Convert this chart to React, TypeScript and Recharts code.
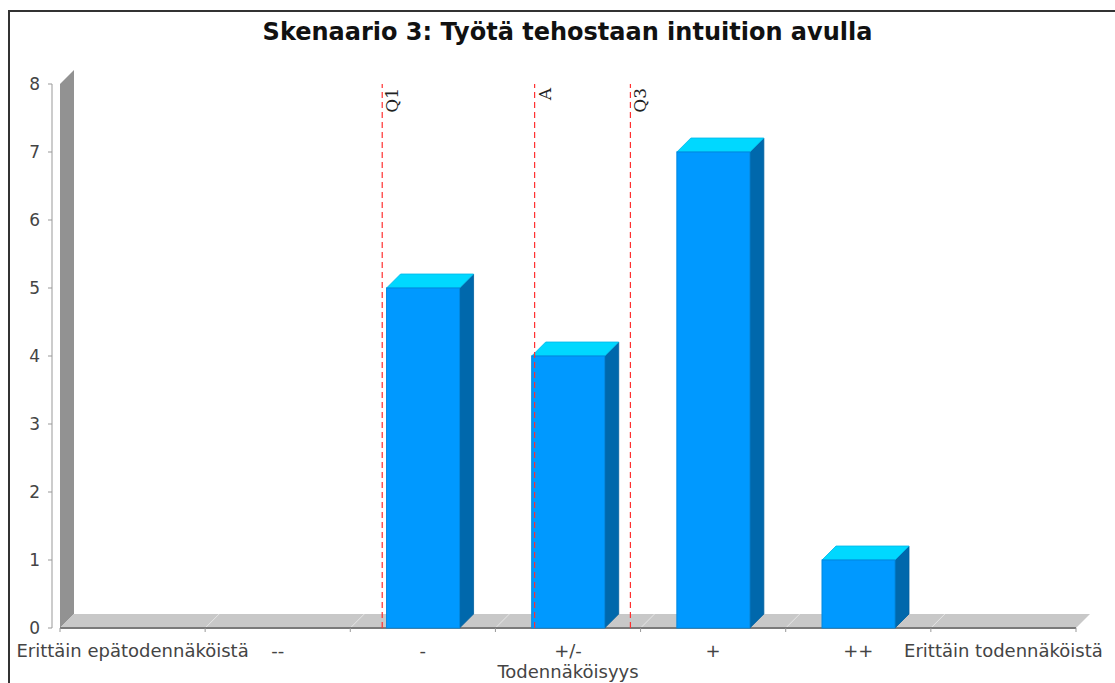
import { BarChart, Bar, XAxis, YAxis, ReferenceLine, ReferenceArea } from 'recharts';

// ---- data ----
const categories = ['Erittäin epätodennäköistä', '--', '-', '+/-', '+', '++', 'Erittäin todennäköistä'];
const counts = [0, 0, 5, 4, 7, 1, 0];
const yTicks = [0, 1, 2, 3, 4, 5, 6, 7, 8];
// marker positions in category units (0 = left edge of first category)
const markerLabels = ['Q1', 'A', 'Q3'];
const markerPositions = [2.22, 3.27, 3.93];

const data = categories.map((name, i) => ({ name, value: counts[i], pos: i + 0.5 }));

const DEPTH = 14;
const FONT = '"DejaVu Sans", sans-serif';

// 3D bar: front face, top and right side
function Bar3D(props: any) {
  const { x, y, width, height } = props;
  if (!height || height <= 0) return null;
  const d = DEPTH;
  const top = `${x},${y} ${x + d},${y - d} ${x + width + d},${y - d} ${x + width},${y}`;
  const side = `${x + width},${y} ${x + width + d},${y - d} ${x + width + d},${y + height - d} ${x + width},${y + height}`;
  return (
    <g>
      <polygon points={side} fill="#0068AC" stroke="#00609e" strokeWidth={0.8} />
      <polygon points={top} fill="#00D8FF" stroke="#00b8e8" strokeWidth={0.8} />
      <rect x={x} y={y} width={width} height={height} fill="#0099FF" stroke="#0088e0" strokeWidth={1} />
    </g>
  );
}

// wall + floor + axis lines, drawn from the plot rectangle
function WallFloor(props: any) {
  const { x, y, width, height } = props;
  const d = DEPTH;
  const bottom = y + height;
  const n = categories.length;
  const step = width / n;
  const seps = Array.from({ length: n + 1 }, (_, i) => x + i * step);
  return (
    <g>
      {/* wall */}
      <polygon
        points={`${x},${bottom} ${x},${y} ${x + d},${y - d} ${x + d},${bottom - d}`}
        fill="#929292"
      />
      {/* floor */}
      <polygon
        points={`${x},${bottom} ${x + d},${bottom - d} ${x + width + d},${bottom - d} ${x + width},${bottom}`}
        fill="#c8c8c8"
      />
      {seps.slice(1, -1).map((sx, i) => (
        <line key={`s${i}`} x1={sx} y1={bottom} x2={sx + d} y2={bottom - d} stroke="#e6e6e6" strokeWidth={1} />
      ))}
      <line x1={x} y1={bottom} x2={x + width} y2={bottom} stroke="#7a7a7a" strokeWidth={2} />
      {/* category ticks */}
      {seps.map((sx, i) => (
        <line key={`t${i}`} x1={sx} y1={bottom} x2={sx} y2={bottom + 4} stroke="#999" strokeWidth={1} />
      ))}
      {/* value axis line */}
      <line x1={x - 8} y1={y} x2={x - 8} y2={bottom} stroke="#999" strokeWidth={1} />
    </g>
  );
}

function YTick(props: any) {
  const { y, payload } = props;
  return (
    <g>
      <line x1={48} y1={y} x2={52} y2={y} stroke="#999" strokeWidth={1} />
      <text x={40} y={y} dy="0.36em" textAnchor="end" fontSize={17} fontFamily={FONT} fill="#444">
        {payload.value}
      </text>
    </g>
  );
}

function XTick(props: any) {
  const { x, y, payload } = props;
  return (
    <text x={x} y={y} dy={21} textAnchor="middle" fontSize={18} fontFamily={FONT} fill="#444">
      {payload.value}
    </text>
  );
}

function markerLabel(text: string) {
  return (props: any) => {
    const vb = props.viewBox;
    const lx = vb.x + 16;
    const ly = vb.y + 4;
    return (
      <text
        x={lx}
        y={ly}
        textAnchor="end"
        transform={`rotate(-90 ${lx} ${ly})`}
        fontSize={17}
        fontFamily='"DejaVu Serif", serif'
        fill="#222"
      >
        {text}
      </text>
    );
  };
}

export default function App() {
  return (
    <div style={{ position: 'absolute', left: 0, top: 0, width: 1115, height: 683, overflow: 'hidden', background: '#fff' }}>
      <div style={{ position: 'absolute', left: 8, top: 10, width: 1200, height: 800, border: '2px solid #333', boxSizing: 'border-box' }} />
      <div
        style={{
          position: 'absolute', left: 0, top: 18, width: 1135, textAlign: 'center', lineHeight: '28px',
          fontFamily: FONT, fontWeight: 'bold', fontSize: 24, color: '#111',
        }}
      >
        Skenaario 3: Työtä tehostaan intuition avulla
      </div>
      <div style={{ position: 'absolute', left: 0, top: 0 }}>
        <BarChart
          width={1115}
          height={683}
          data={data}
          margin={{ top: 84, right: 39, left: 0, bottom: 0 }}
          barCategoryGap="25%"
        >
          <XAxis
            xAxisId="cat"
            dataKey="name"
            height={55}
            axisLine={false}
            tickLine={false}
            tick={<XTick />}
            interval={0}
            label={{ value: 'Todennäköisyys', position: 'insideBottom', offset: 5, fontSize: 18, fontFamily: FONT, fill: '#444' }}
          />
          <XAxis xAxisId="pos" dataKey="pos" type="number" domain={[0, 7]} hide allowDataOverflow />
          <YAxis
            width={60}
            domain={[0, 8]}
            ticks={yTicks}
            axisLine={false}
            tickLine={false}
            tick={<YTick />}
            interval={0}
          />
          <ReferenceArea xAxisId="pos" x1={0} x2={7} y1={0} y2={8} shape={<WallFloor />} ifOverflow="visible" />
          <Bar xAxisId="cat" dataKey="value" shape={<Bar3D />} isAnimationActive={false} />
          {markerLabels.map((lab, i) => (
            <ReferenceLine
              key={lab}
              xAxisId="pos"
              x={markerPositions[i]}
              stroke="#ff3030"
              strokeDasharray="6 4"
              strokeWidth={1.2}
              label={markerLabel(lab)}
            />
          ))}
        </BarChart>
      </div>
    </div>
  );
}
